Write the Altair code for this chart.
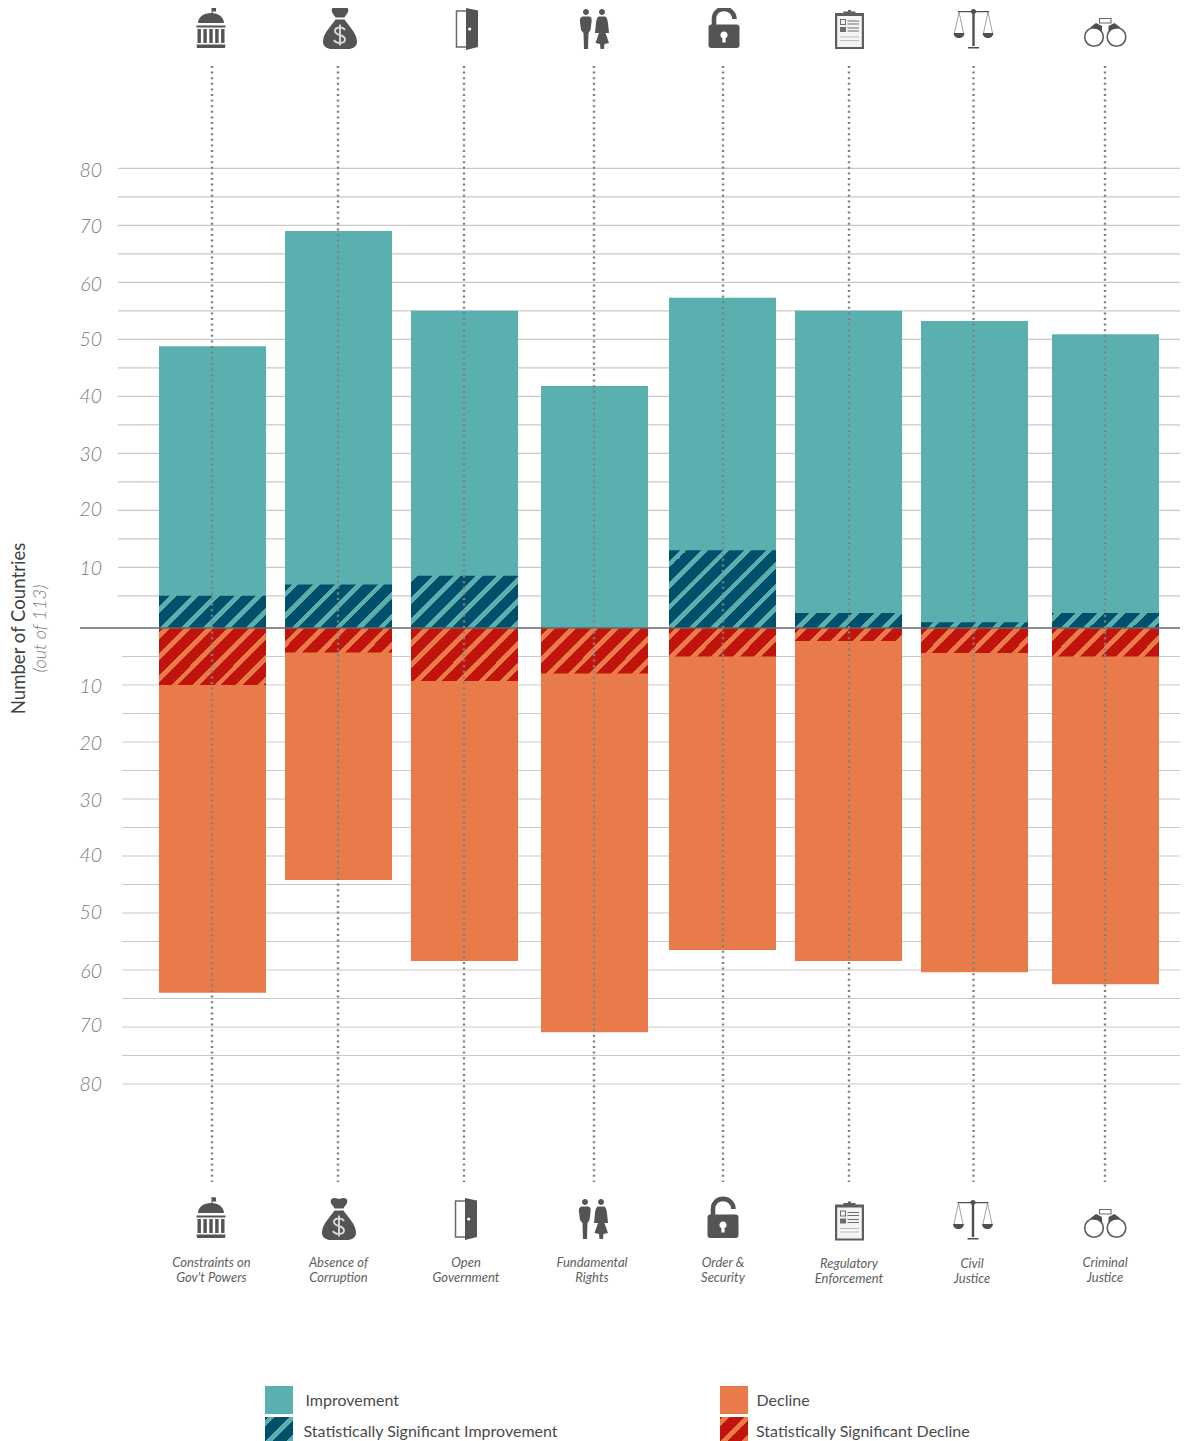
import re
import altair as alt
import pandas as pd

# ---------- data ----------
pillars = ["Constraints on\nGov't Powers", "Absence of\nCorruption", "Open\nGovernment",
           "Fundamental\nRights", "Order &\nSecurity", "Regulatory\nEnforcement",
           "Civil\nJustice", "Criminal\nJustice"]
improved = [48.8, 69, 55, 41.8, 57.3, 55, 53.2, 50.9]
improved_sig = [5, 7, 8.5, 0, 13, 2, 0.6, 2]
declined = [64, 44.2, 58.4, 70.9, 56.5, 58.4, 60.4, 62.5]
declined_sig = [10, 4.3, 9.3, 8, 5, 2.3, 4.4, 5]
y_ticks = [80, 70, 60, 50, 40, 30, 20, 10, -10, -20, -30, -40, -50, -60, -70, -80]
grid_pos = list(range(5, 85, 5))
grid_neg = list(range(-80, 0, 5))
legend_labels = ["Improvement", "Statistically Significant Improvement",
                 "Decline", "Statistically Significant Decline"]
axis_title = "Number of Countries"
axis_subtitle = "(out of 113)"

# ---------- styles / layout ----------
TEAL, NAVY, ORANGE, RED = "#5AB0AE", "#004F6B", "#E87B49", "#C0140C"
FONT = "Lato"
W, H = 1172, 1433
BAR_W = 107
centers = [204.5, 330.5, 456.5, 586.5, 714.5, 840.5, 966.5, 1097.5]   # scale range, plot px
x_scale = alt.Scale(domain=list(range(8)), range=centers, padding=0, nice=False, zero=False)
y_scale = alt.Scale(domain=[-80, 0, 1, 80], range=[1076, 620, 610.6, 160.3], padding=0, nice=False, zero=False)

def ypx(v):
    return 620 - 9.4 * v if 0 <= v <= 1 else (616.3 - 5.7 * v if v > 1 else 619.7 - 5.7 * v)

PERIOD, LIGHT = 21.5, 6.8

def hatch(w, h, dark, light, phase):
    """Diagonal stripes as a hard-stop linear gradient in the box of one bar."""
    total = w + h
    k = total / (w * w + h * h)
    stops, s = [], phase - PERIOD
    stops.append({"offset": 0, "color": dark})
    while s < total:
        a, b = s, s + LIGHT
        if b > 0:
            aa, bb = max(a, 0) / total, min(b, total) / total
            stops += [{"offset": aa, "color": dark}, {"offset": aa, "color": light},
                      {"offset": bb, "color": light}, {"offset": bb, "color": dark}]
        s += PERIOD
    stops.append({"offset": 1, "color": dark})
    return {"gradient": "linear", "x1": 0, "y1": 0, "x2": k * w, "y2": k * h, "stops": stops}

df = pd.DataFrame({"idx": list(range(8)), "pillar": pillars, "up": improved, "up_sig": improved_sig,
                   "down": [-v for v in declined], "down_sig": [-v for v in declined_sig]})
X = alt.X("idx:Q", scale=x_scale, axis=None)

layers = []

# ---------- grid ----------
for vals, left in ((grid_pos, 110), (grid_neg, 114)):
    layers.append(alt.Chart(pd.DataFrame({"v": vals})).mark_rule(color="#C9C9C9", strokeWidth=1.2).encode(
        y=alt.Y("v:Q", scale=y_scale, axis=None), x=alt.value(left), x2=alt.value(W)))

# ---------- y tick labels ----------
tick_nudge = [3, 2, 3, 1, 1, 2, 0, 2, 2, 2, 2, 0, 0, 2, -1, 1]
for v, dy in zip(y_ticks, tick_nudge):
    layers.append(alt.Chart(pd.DataFrame({"v": [v], "t": [str(abs(v))]})).mark_text(
        font=FONT, fontStyle="italic", fontWeight=300, fontSize=19.5, color="#7A7A7C",
        align="right", baseline="middle", dy=dy).encode(
        x=alt.value(94), y=alt.Y("v:Q", scale=y_scale, axis=None), text="t:N"))

# ---------- bars ----------
layers.append(alt.Chart(df).mark_bar(size=BAR_W, color=TEAL).encode(
    x=X, y=alt.Y("up:Q", scale=y_scale, axis=None), y2=alt.Y2(datum=0)))
layers.append(alt.Chart(df).mark_bar(size=BAR_W, color=ORANGE).encode(
    x=X, y=alt.Y("down:Q", scale=y_scale, axis=None), y2=alt.Y2(datum=0)))

up_phase = [11, 6.7, 0, 0, 11, 15, 11.7, 2.3]
down_phase = [4.3, 13, 12.3, 7.3, 6, 5.7, 7.3, 6.3]
for i in range(8):
    row = df.iloc[[i]]
    if improved_sig[i] > 0:
        h = 620 - ypx(improved_sig[i])
        layers.append(alt.Chart(row).mark_bar(size=BAR_W, fill=hatch(BAR_W, h, NAVY, TEAL, up_phase[i])).encode(
            x=X, y=alt.Y("up_sig:Q", scale=y_scale, axis=None), y2=alt.Y2(datum=0)))
    h = ypx(-declined_sig[i]) - 620
    layers.append(alt.Chart(row).mark_bar(size=BAR_W, fill=hatch(BAR_W, h, RED, ORANGE, down_phase[i])).encode(
        x=X, y=alt.Y("down_sig:Q", scale=y_scale, axis=None), y2=alt.Y2(datum=0)))

# ---------- zero line and dotted guides ----------
layers.append(alt.Chart(pd.DataFrame({"v": [0]})).mark_rule(color="#66676A", strokeWidth=1.6).encode(
    y=alt.Y("v:Q", scale=y_scale, axis=None), x=alt.value(72), x2=alt.value(W)))
guide_nudge = [-0.5, -0.5, -0.5, -0.5, 0.5, 0.5, -1, -0.5]
for i in range(8):
    layers.append(alt.Chart(df.iloc[[i]]).mark_rule(
        color="#808082", strokeWidth=2.4, strokeDash=[2, 3.6], xOffset=guide_nudge[i]).encode(
        x=X, y=alt.value(58), y2=alt.value(1174)))

# ---------- icons (paths in px around the icon centre, box of 44 px) ----------
def unit(path):
    return re.sub(r"-?\d+\.?\d*", lambda m: f"{float(m.group()) / 22:.4f}", path)

def circ(x, y, r):
    c = 0.5523 * r
    return (f"M{x - r},{y} C{x - r},{y - c} {x - c},{y - r} {x},{y - r} C{x + c},{y - r} {x + r},{y - c} {x + r},{y} "
            f"C{x + r},{y + c} {x + c},{y + r} {x},{y + r} C{x - c},{y + r} {x - r},{y + c} {x - r},{y} Z")

def box(x0, y0, x1, y1):
    return f"M{x0},{y0} L{x1},{y0} L{x1},{y1} L{x0},{y1} Z"

D = "#545456"
capitol = [
    ("f", D, "M0.5,-21 L5,-20.5 L5,-16.5 L1.5,-16.5 L1.5,-14 L0.5,-14 Z "
             "M-13,-5 C-13,-11 -7,-15 0,-15 C7,-15 13,-11 13,-5 Z " + box(-14.5, -2.5, 14.5, -0.5) + " "
             + " ".join(box(x, 1, x + 3.4, 15) for x in (-13.5, -7.6, -1.7, 4.2, 10.1)) + " "
             "M-14.5,16.5 L14.5,16.5 L14,20 L-14,20 Z"),
]
bag = [
    ("f", D, "M-8,-19.5 C-4,-22.5 -2,-20 0,-20 C2,-20 4,-22.5 8,-19.5 C9.5,-15.5 5.5,-13 4.5,-10.5 L-4.5,-10.5 "
             "C-5.5,-13 -9.5,-15.5 -8,-19.5 Z "
             "M-4.5,-8.5 L4.5,-8.5 C8,-3 17,5 17,13.5 C17,19 12.5,21 8,21 L-8,21 C-12.5,21 -17,19 -17,13.5 "
             "C-17,5 -8,-3 -4.5,-8.5 Z"),
    ("s", "#D8D8DA", "M5,2 C3,-1.5 -5,-1.5 -5,3 C-5,8 5,6 5,11.5 C5,16 -4,16 -6,12 M0,-3.5 L0,17.5", 1.9),
]
door = [
    ("s", "#6A6A6C", "M-1,-18 L-10.5,-18 L-10.5,18 L-1,18", 1.5),
    ("f", D, "M-1,-21 L11,-18.5 L11,18 L-1,21 Z"),
    ("f", "#FFFFFF", circ(2.7, 0, 1.6)),
]
people = [
    ("f", D, circ(-9, -17, 3) + " " + circ(7, -17, 3) + " "
             "M-12.5,-12.5 L-5.5,-12.5 C-3.5,-12 -3,-10 -3.5,-7 L-4.5,1 L-6.5,4 L-7,20 L-11,20 L-11.5,4 "
             "L-14,1 L-15,-7 C-15.5,-10 -14.5,-12 -12.5,-12.5 Z "
             "M4,-12.5 L10,-12.5 C12,-12 12.5,-9 13,-6 L14,4 L10.5,4 L14,14 L9.5,15 L9,20 L5.5,20 L5,15 "
             "L0.5,14 L4,4 L0,4 L1,-6 C1.5,-9 2,-12 4,-12.5 Z"),
]
lock = [
    ("s", D, "M-10,-3 L-10,-9 C-10,-22.5 10,-22.5 10.5,-9", 4.6),
    ("f", D, "M-12.5,-3.5 L12.5,-3.5 C14.5,-3.5 15.5,-2.5 15.5,-0.5 L15.5,17 C15.5,19 14.5,20 12.5,20 "
             "L-12.5,20 C-14.5,20 -15.5,19 -15.5,17 L-15.5,-0.5 C-15.5,-2.5 -14.5,-3.5 -12.5,-3.5 Z"),
    ("f", "#FFFFFF", circ(0, 7, 3.6) + " " + box(-1.6, 8, 1.6, 14.5)),
]
clip = [
    ("f", "#5E5E60", box(-14.5, -16.5, 14.5, 19.5) + " " + box(-6, -18, 6, -14) + " " + box(-1.5, -19.5, 1.5, -16)),
    ("f", "#F4F4F4", box(-12.3, -13.5, 12.3, 17.5)),
    ("f", "#6E6E70", box(-9.5, -10.5, -3.5, -9.5) + " " + box(-9.5, -5.5, -3.5, -4.5) + " "
                     + box(-9.5, -10.5, -8.5, -4.5) + " " + box(-4.5, -10.5, -3.5, -4.5) + " "
                     + box(-9.5, -2.5, -3.5, 2.5) + " " + box(-2, -9, 9.5, -8) + " " + box(-2, -6, 9.5, -5) + " "
                     + box(-2, -2, 9.5, -1) + " " + box(-2, 1, 9.5, 2)),
    ("f", "#BDBDBF", box(-9.5, 7, 9.5, 8) + " " + box(-9.5, 10.5, 9.5, 11.5)),
]
scales = [
    ("s", "#8A8A8C", "M-14.5,-16 L-19,5 M-14.5,-16 L-10,5 M14.5,-16 L10,5 M14.5,-16 L19,5", 0.8),
    ("f", "#4F4F51", circ(0, -16.5, 2.6) + " " + box(-1.2, -16, 1.2, 18) + " " + box(-5.5, 19, 5.5, 20.5) + " "
                     + box(-15.5, -17, 15.5, -15.8) + " "
                     + "M-20,5 L-9,5 C-9.5,9 -12,10 -14.5,10 C-17,10 -19.5,9 -20,5 Z "
                     + "M9,5 L20,5 C19.5,9 17,10 14.5,10 C12,10 9.5,9 9,5 Z"),
]
cuffs = [
    ("s", "#5C5C5E", circ(-11, 4, 9.3) + " " + circ(11.5, 4, 9.3), 1.6),
    ("f", "#4F4F51", "M-15,-5.5 L-9,-10 L-3,-7 L-3,-1 L-6.5,-3.5 Z M15.5,-5.5 L9.5,-10 L3.5,-7 L3.5,-1 L7,-3.5 Z"),
    ("s", "#6A6A6C", box(-5.5, -14.5, 6, -10), 1.1),
]
icons = [capitol, bag, door, people, lock, clip, scales, cuffs]
top_at = [(-1.5, 20), (1.5, 20), (2.5, 21), (0.5, 21), (1.5, 20), (1, 21.5), (-1, 20), (-0.5, 25)]
bot_at = [(-1.5, 1210), (0.5, 1211), (1.5, 1211), (-0.5, 1211), (0.5, 1210), (1, 1213), (-1.5, 1211), (-0.5, 1216)]

for i, parts in enumerate(icons):
    row = df.iloc[[i]]
    for dx, py in (top_at[i], bot_at[i]):
        for part in parts:
            kw = {"shape": unit(part[2]), "size": 44 * 44, "opacity": 1, "xOffset": dx}
            if part[0] == "f":
                mark = alt.Chart(row).mark_point(filled=True, fill=part[1], strokeWidth=0, **kw)
            else:
                mark = alt.Chart(row).mark_point(filled=False, stroke=part[1], strokeWidth=part[3], **kw)
            layers.append(mark.encode(x=X, y=alt.value(py)))

# ---------- category labels ----------
label_at = [(-1, 1), (0, 1), (1.5, 1), (-2.5, 1), (0.5, 1), (0.5, 2), (-2.5, 2), (-0.5, 1)]
for i in range(8):
    dx, dy = label_at[i]
    layers.append(alt.Chart(df.iloc[[i]]).mark_text(
        font=FONT, fontStyle="italic", fontSize=13, color="#5E5E60", lineBreak="\n", lineHeight=15,
        baseline="top", align="center", dx=dx, dy=dy).encode(
        x=X, y=alt.value(1248), text="pillar:N"))

# ---------- y title ----------
layers.append(alt.Chart(pd.DataFrame({"t": [axis_title]})).mark_text(
    font=FONT, fontSize=18.6, angle=270, color="#404042", align="center", baseline="middle").encode(
    x=alt.value(11.3), y=alt.value(620.5), text="t:N"))
layers.append(alt.Chart(pd.DataFrame({"t": [axis_subtitle]})).mark_text(
    font=FONT, fontSize=18, fontStyle="italic", fontWeight=300, angle=270, color="#77777A",
    align="center", baseline="middle").encode(
    x=alt.value(33), y=alt.value(620.5), text="t:N"))

# ---------- legend ----------
swatches = [(257, 285, 1378, 1406, TEAL), (257, 285, 1409, 1433, hatch(28, 24, NAVY, TEAL, 3)),
            (712, 740, 1378, 1406, ORANGE), (712, 740, 1409, 1433, hatch(28, 24, RED, ORANGE, 3))]
text_at = [(297.5, 1392.5), (295.5, 1423.5), (748.5, 1392.5), (748, 1423.5)]
for lab, (x0, x1, y0, y1, fill), (tx, ty) in zip(legend_labels, swatches, text_at):
    row = pd.DataFrame({"t": [lab]})
    layers.append(alt.Chart(row).mark_rect(fill=fill).encode(
        x=alt.value(x0), x2=alt.value(x1), y=alt.value(y0), y2=alt.value(y1)))
    layers.append(alt.Chart(row).mark_text(
        font=FONT, fontSize=16, color="#4A4A4C", align="left", baseline="middle").encode(
        x=alt.value(tx), y=alt.value(ty), text="t:N"))

chart = alt.layer(*layers).properties(
    width=W, height=H, padding=0, background="white",
    autosize=alt.AutoSizeParams(type="none"),
).configure_view(stroke=None)

chart.save("out.html", embed_options={"renderer": "svg", "actions": False})
